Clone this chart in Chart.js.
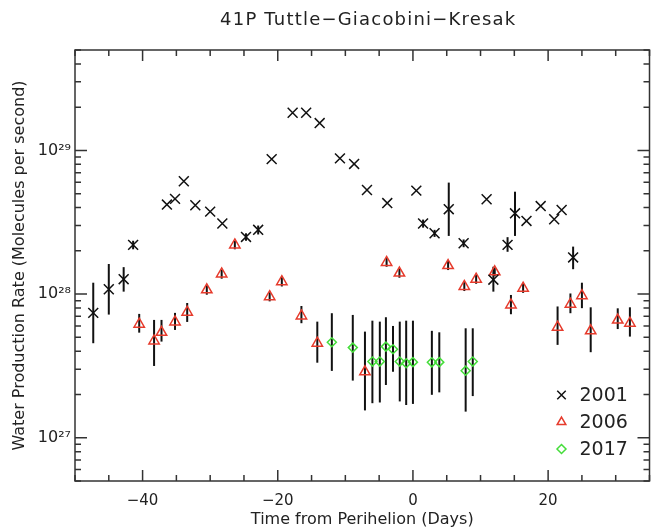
<!doctype html>
<html lang="en">
<head>
<meta charset="UTF-8">
<title>41P Tuttle-Giacobini-Kresak</title>
<style>
  html, body { margin: 0; padding: 0; background: #fff; }
</style>
</head>
<body>
<div style="width: 658px; height: 529px;"><canvas id="myChart" width="658" height="529"></canvas></div>
<script src="https://cdn.jsdelivr.net/npm/chart.js@4.4.1/dist/chart.umd.min.js"></script>
<script>
// Data-----
const days2001 = [-47.3, -45.0, -42.8, -41.4, -36.4, -35.2, -33.9, -32.2, -30.0, -28.2, -24.7, -22.9,
  -20.9, -17.8, -15.8, -13.8, -10.8, -8.7, -6.8, -3.8, 0.5, 1.5, 3.2, 5.3, 7.5, 10.9, 11.9,
  14.0, 15.1, 16.8, 18.9, 20.9, 22.0, 23.7];
const rate2001 = [7.4e27, 1.08e28, 1.27e28, 2.2e28, 4.2e28, 4.6e28, 6.1e28, 4.15e28, 3.75e28, 3.1e28, 2.5e28, 2.8e28,
  8.7e28, 1.83e29, 1.83e29, 1.55e29, 8.8e28, 8.05e28, 5.3e28, 4.3e28, 5.25e28, 3.1e28, 2.65e28, 3.9e28, 2.26e28, 4.57e28, 1.26e28,
  2.2e28, 3.65e28, 3.23e28, 4.1e28, 3.32e28, 3.85e28, 1.8e28];
const low2001 = [4.55e27, 7.2e27, 1.04e28, 2.05e28, null, null, null, null, null, null, 2.35e28, 2.6e28,
  null, null, null, null, null, null, null, null, null, 2.9e28, 2.5e28, 2.54e28, 2.12e28, null, 1.04e28,
  1.97e28, 2.54e28, null, null, null, null, 1.49e28];
const high2001 = [1.2e28, 1.62e28, 1.54e28, 2.35e28, null, null, null, null, null, null, 2.65e28, 3.0e28,
  null, null, null, null, null, null, null, null, null, 3.3e28, 2.8e28, 5.97e28, 2.4e28, null, 1.55e28,
  2.49e28, 5.16e28, null, null, null, null, 2.14e28];

const days2006 = [-40.5, -38.3, -37.2, -35.2, -33.4, -30.5, -28.3, -26.35, -21.2, -19.4, -16.5, -14.15, -7.1,
  -3.9, -2.0, 5.2, 7.6, 9.35, 12.1, 14.5, 16.3, 21.4, 23.3, 25.0, 26.3, 30.3, 32.1];
const rate2006 = [6.17e27, 4.72e27, 5.42e27, 6.4e27, 7.48e27, 1.07e28, 1.38e28, 2.2e28, 9.6e27, 1.22e28, 7.05e27, 4.55e27, 2.88e27,
  1.66e28, 1.40e28, 1.58e28, 1.13e28, 1.27e28, 1.43e28, 8.4e27, 1.10e28, 5.88e27, 8.5e27, 9.75e27, 5.55e27, 6.6e27, 6.27e27];
const low2006 = [5.39e27, 3.16e27, 4.67e27, 5.63e27, 6.4e27, 9.9e27, 1.28e28, 2.05e28, 8.9e27, 1.13e28, 6.27e27, 3.33e27, 1.55e27,
  1.55e28, 1.3e28, 1.47e28, 1.05e28, 1.18e28, 1.33e28, 7.24e27, 1.02e28, 4.43e27, 7.36e27, 7.98e27, 3.94e27, 5.71e27, 5.06e27];
const high2006 = [7.28e27, 6.61e27, 6.61e27, 7.4e27, 8.67e27, 1.15e28, 1.48e28, 2.35e28, 1.03e28, 1.31e28, 8.26e27, 6.43e27, 5.48e27,
  1.78e28, 1.5e28, 1.7e28, 1.21e28, 1.36e28, 1.53e28, 9.86e27, 1.18e28, 8.2e27, 1.01e28, 1.2e28, 8.09e27, 7.96e27, 8.09e27];

const days2017 = [-12.0, -8.9, -6.0, -4.9, -4.0, -2.95, -1.95, -1.0, 0.0, 2.8, 3.9, 7.8, 8.85];
const rate2017 = [4.62e27, 4.24e27, 3.39e27, 3.39e27, 4.31e27, 4.13e27, 3.39e27, 3.3e27, 3.36e27, 3.35e27, 3.36e27, 2.93e27, 3.39e27];
const low2017 = [2.92e27, 2.5e27, 1.74e27, 1.76e27, 2.33e27, 2.88e27, 1.79e27, 1.69e27, 1.72e27, 1.99e27, 2.07e27, 1.52e27, 1.95e27];
const high2017 = [7.36e27, 7.16e27, 6.53e27, 6.43e27, 6.9e27, 6.0e27, 6.43e27, 6.53e27, 6.53e27, 5.55e27, 5.42e27, 5.78e27, 5.78e27];

const xTickValues = [-40, -20, 0, 20];
const yTickValues = [1e27, 1e28, 1e29];
// Data-----

const FONT = "'DejaVu Sans', 'Liberation Sans', sans-serif";
const INK = '#222';
const sup = { '0': '⁰', '1': '¹', '2': '²', '3': '³', '4': '⁴', '5': '⁵', '6': '⁶', '7': '⁷', '8': '⁸', '9': '⁹' };

function toPoints(xs, ys, lo, hi) {
  return xs.map((x, i) => ({ x: x, y: ys[i], lo: lo[i], hi: hi[i] }));
}

// vertical error bars
const errorBars = {
  id: 'errorBars',
  beforeDatasetsDraw(chart) {
    const ctx = chart.ctx, xs = chart.scales.x, ys = chart.scales.y;
    ctx.save();
    ctx.strokeStyle = '#111';
    ctx.lineWidth = 2;
    chart.data.datasets.forEach(ds => {
      ds.data.forEach(p => {
        if (p.lo == null || p.hi == null) return;
        const px = xs.getPixelForValue(p.x);
        ctx.beginPath();
        ctx.moveTo(px, ys.getPixelForValue(p.lo));
        ctx.lineTo(px, ys.getPixelForValue(p.hi));
        ctx.stroke();
      });
    });
    ctx.restore();
  }
};

// box frame with inward ticks on all four sides, title and legend
const frame = {
  id: 'frame',
  afterDraw(chart) {
    const ctx = chart.ctx, a = chart.chartArea, xs = chart.scales.x, ys = chart.scales.y;
    ctx.save();
    ctx.strokeStyle = '#333';
    ctx.lineWidth = 1.5;
    ctx.strokeRect(a.left, a.top, a.right - a.left, a.bottom - a.top);
    ctx.beginPath();
    for (let v = -50; v <= 35; v += 5) {
      const px = xs.getPixelForValue(v);
      const len = v % 20 === 0 ? 11 : 6;
      ctx.moveTo(px, a.bottom); ctx.lineTo(px, a.bottom - len);
      ctx.moveTo(px, a.top); ctx.lineTo(px, a.top + len);
    }
    for (let d = 26; d <= 29; d++) {
      for (let m = 1; m <= 9; m++) {
        const v = m * Math.pow(10, d);
        if (v < ys.min * 0.999 || v > ys.max * 1.001) continue;
        const py = ys.getPixelForValue(v);
        const len = m === 1 ? 12 : 6;
        ctx.moveTo(a.left, py); ctx.lineTo(a.left + len, py);
        ctx.moveTo(a.right, py); ctx.lineTo(a.right - len, py);
      }
    }
    ctx.stroke();

    // title
    ctx.fillStyle = INK;
    ctx.font = '18px ' + FONT;
    ctx.letterSpacing = '1.2px';
    ctx.textAlign = 'center';
    ctx.textBaseline = 'middle';
    ctx.fillText('41P Tuttle−Giacobini−Kresak', (a.left + a.right) / 2 + 6, 20);

    // legend
    ctx.font = '19px ' + FONT;
    ctx.letterSpacing = '0px';
    ctx.textAlign = 'left';
    chart.data.datasets.forEach((ds, i) => {
      const y = a.bottom - 86 + i * 27;
      ctx.strokeStyle = ds.borderColor;
      ctx.fillStyle = 'rgba(0,0,0,0)';
      ctx.lineWidth = 1.5;
      Chart.helpers.drawPoint(ctx, { pointStyle: ds.pointStyle, radius: ds.legendRadius, rotation: 0, borderWidth: 1.5 }, a.right - 88, y);
      ctx.fillStyle = INK;
      ctx.fillText(ds.label, a.right - 70, y + 1);
    });
    ctx.restore();
  }
};

const config = {
  type: 'scatter',
  data: {
    datasets: [{
      label: '2001',
      data: toPoints(days2001, rate2001, low2001, high2001),
      pointStyle: 'crossRot',
      pointRadius: 7,
      legendRadius: 6,
      borderColor: '#111',
      borderWidth: 1.5
    }, {
      label: '2006',
      data: toPoints(days2006, rate2006, low2006, high2006),
      pointStyle: 'triangle',
      pointRadius: 6,
      legendRadius: 5,
      borderColor: '#e63b2c',
      backgroundColor: 'rgba(0,0,0,0)',
      borderWidth: 1.5
    }, {
      label: '2017',
      data: toPoints(days2017, rate2017, low2017, high2017),
      pointStyle: 'rectRot',
      pointRadius: 4.5,
      legendRadius: 4.5,
      borderColor: '#44dd3a',
      backgroundColor: 'rgba(0,0,0,0)',
      borderWidth: 1.5
    }]
  },
  options: {
    responsive: false,
    animation: false,
    layout: { padding: { top: 50, right: 2, left: 0, bottom: 0 } },
    plugins: {
      legend: { display: false },
      tooltip: { enabled: false }
    },
    scales: {
      x: {
        type: 'linear',
        min: -50,
        max: 35,
        afterBuildTicks: s => { s.ticks = xTickValues.map(v => ({ value: v })); },
        afterFit: s => { s.height = 48; },
        grid: { display: false, drawTicks: false },
        border: { display: false },
        ticks: { padding: 11, color: INK, font: { family: FONT, size: 15 }, callback: v => String(v).replace('-', '−') },
        title: { display: true, text: 'Time from Perihelion (Days)', color: INK, padding: { top: 0, bottom: 0 }, font: { family: FONT, size: 16 } }
      },
      y: {
        type: 'logarithmic',
        min: 5e26,
        max: 5e29,
        afterBuildTicks: s => { s.ticks = yTickValues.map(v => ({ value: v })); },
        afterFit: s => { s.width = 75; },
        grid: { display: false, drawTicks: false },
        border: { display: false },
        ticks: {
          padding: 4,
          color: INK,
          font: { family: FONT, size: 16 },
          callback: v => '10' + String(Math.round(Math.log10(v))).split('').map(c => sup[c]).join('')
        },
        title: { display: true, text: 'Water Production Rate (Molecules per second)', color: INK, padding: { top: 10, bottom: 0 }, font: { family: FONT, size: 16 } }
      }
    }
  },
  plugins: [errorBars, frame]
};

const myChart = new Chart(document.getElementById('myChart'), config);
</script>
</body>
</html>
